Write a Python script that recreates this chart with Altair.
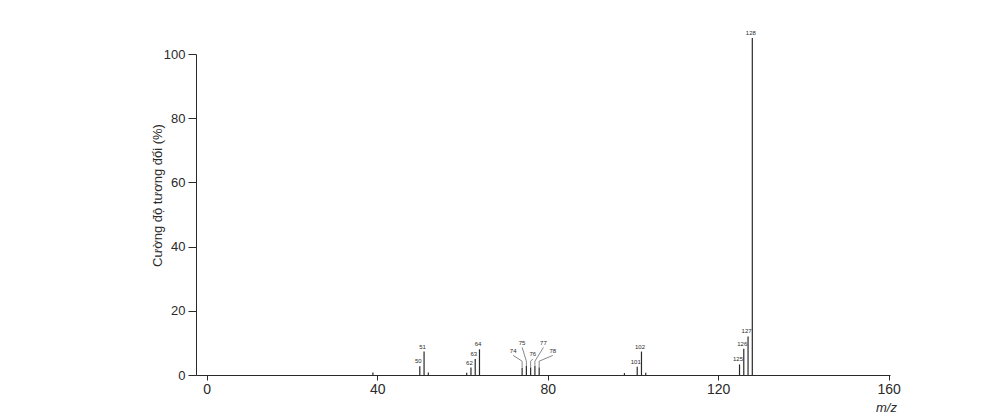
import altair as alt
import pandas as pd

# ---- data ----
mz = [39, 50, 51, 52, 61, 62, 63, 64, 74, 75, 76, 77, 78, 98, 101, 102, 103, 125, 126, 127, 128]
intensity = [0.8, 2.7, 7.3, 0.8, 0.7, 2.3, 5.0, 8.0, 2.2, 2.8, 2.3, 2.8, 2.3, 0.6, 2.6, 7.3, 0.7, 3.3, 8.2, 12.0, 105.0]

# peaks labelled directly above the line
direct_labels = [50, 51, 62, 63, 64, 101, 102, 125, 126, 127, 128]

# peaks labelled through leader lines (label anchor in data units)
leader_mz = [74, 75, 76, 77, 78]
leader_label_x = [71.9, 74.0, 76.5, 79.0, 81.2]
leader_label_y = [6.6, 9.1, 5.5, 9.1, 6.6]
leader_knee_y = 4.3

x_ticks = [0, 40, 80, 120, 160]
y_ticks = [0, 20, 40, 60, 80, 100]

peaks = pd.DataFrame({"mz": mz, "intensity": intensity})
height_of = dict(zip(mz, intensity))

lab = pd.DataFrame({"mz": direct_labels,
                    "intensity": [height_of[m] for m in direct_labels],
                    "text": [str(m) for m in direct_labels]})

lead_rows = []
for m, lx, ly in zip(leader_mz, leader_label_x, leader_label_y):
    lead_rows.append({"peak": m, "order": 0, "x": m, "y": height_of[m]})
    lead_rows.append({"peak": m, "order": 1, "x": m, "y": leader_knee_y})
    lead_rows.append({"peak": m, "order": 2, "x": lx, "y": ly - 0.5})
lead = pd.DataFrame(lead_rows)
lead_text = pd.DataFrame({"x": leader_label_x, "y": leader_label_y,
                          "text": [str(m) for m in leader_mz]})

ink = "#2a2a2a"
xs = alt.Scale(domain=[-2.5, 160.3], nice=False, zero=False)
ys = alt.Scale(domain=[0, 100], nice=False)

xaxis = alt.Axis(values=x_ticks, title="m/z", titleFontStyle="italic", titleFontWeight="normal",
                 titleFontSize=13, titleAnchor="end", titleAlign="center", titleBaseline="middle",
                 titleX=690, titleY=32, labelFontSize=14, tickSize=5, labelPadding=2,
                 grid=False, labelFlush=False)
yaxis = alt.Axis(values=y_ticks, title="Cường độ tương đối (%)", titleFontWeight="normal",
                 titleFontSize=13, titleAlign="center", titleBaseline="middle",
                 titleX=-39, titleY=141, labelFontSize=13, tickSize=8, labelPadding=3,
                 grid=False)

bars = alt.Chart(peaks).mark_rule(color=ink, strokeWidth=1.2, clip=False).encode(
    x=alt.X("mz:Q", scale=xs, axis=xaxis),
    y=alt.Y("intensity:Q", scale=ys, axis=yaxis),
    y2=alt.datum(0),
)

labels = alt.Chart(lab).mark_text(fontSize=6, color=ink, baseline="bottom", dx=-1.5, dy=-2,
                                  font="Liberation Sans").encode(
    x=alt.X("mz:Q", scale=xs),
    y=alt.Y("intensity:Q", scale=ys),
    text="text:N",
)

leaders = alt.Chart(lead).mark_line(stroke="#555555", color="#555555", strokeWidth=0.7).encode(
    x=alt.X("x:Q", scale=xs),
    y=alt.Y("y:Q", scale=ys),
    detail="peak:N",
    order="order:Q",
)

leader_labels = alt.Chart(lead_text).mark_text(fontSize=6, color=ink, fill=ink, baseline="bottom",
                                               font="Liberation Sans").encode(
    x=alt.X("x:Q", scale=xs),
    y=alt.Y("y:Q", scale=ys),
    text="text:N",
)

chart = alt.layer(bars, leaders, labels, leader_labels).properties(
    width=694, height=321,
    background="white",
    autosize=alt.AutoSizeParams(type="none"),
    padding={"left": 188, "top": 46, "right": 80, "bottom": 38},
).configure_view(strokeWidth=0, stroke="transparent").configure_axis(
    domainColor=ink, tickColor=ink, labelColor=ink, titleColor=ink,
    labelFont="Liberation Sans", titleFont="Liberation Sans",
)

chart.save("out.html", embed_options={"renderer": "svg", "actions": False})
